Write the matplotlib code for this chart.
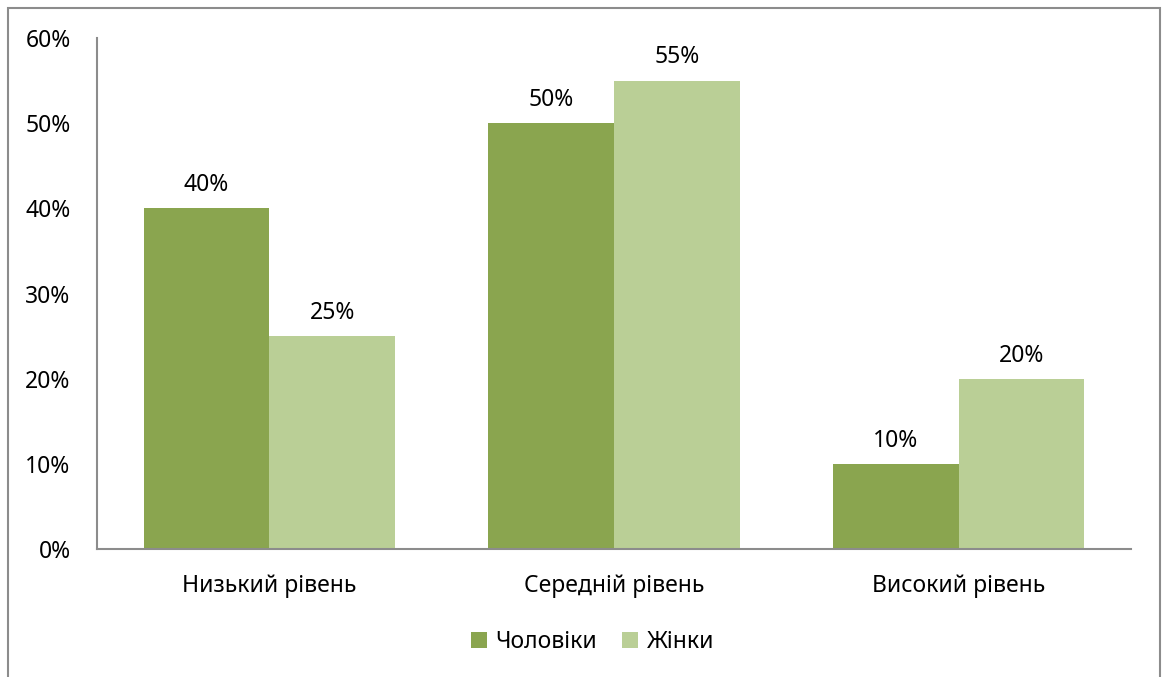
import matplotlib.pyplot as plt
import numpy as np
from matplotlib.patches import Rectangle

plt.rcParams['font.family'] = ['Noto Sans', 'DejaVu Sans']

categories = ["Низький рівень", "Середній рівень", "Високий рівень"]
men = [40, 50, 10]
women = [25, 55, 20]
series_names = ["Чоловіки", "Жінки"]
yticks = [0, 10, 20, 30, 40, 50, 60]

dark = "#8aa54f"
light = "#bacf96"
fs = 16.5

fig = plt.figure(figsize=(11.69, 6.77), dpi=100)
ax = fig.add_axes([0.083, 0.189, 0.8845, 0.7549])

x = np.arange(len(categories))
w = 0.365
b1 = ax.bar(x - w / 2, men, w, color=dark, label=series_names[0])
b2 = ax.bar(x + w / 2, women, w, color=light, label=series_names[1])

for bars, vals in ((b1, men), (b2, women)):
    for rect, v in zip(bars, vals):
        ax.annotate(f"{v}%", (rect.get_x() + rect.get_width() / 2, v),
                    xytext=(0, 8), textcoords="offset points",
                    ha="center", va="bottom", fontsize=fs)

ax.set_xlim(-0.5, len(categories) - 0.5)
ax.set_ylim(0, 60)
ax.set_yticks(yticks)
ax.set_yticklabels([f"{t}%" for t in yticks])
ax.set_xticks(x)
ax.set_xticklabels(categories)
ax.tick_params(axis="both", length=0, labelsize=fs)
ax.tick_params(axis="y", pad=19)
ax.tick_params(axis="x", pad=18)

for side in ("top", "right"):
    ax.spines[side].set_visible(False)
for side in ("left", "bottom"):
    ax.spines[side].set_color("#8c8c8c")
    ax.spines[side].set_linewidth(1.5)

ax.legend(loc="center", bbox_to_anchor=(0.507, 0.052), bbox_transform=fig.transFigure,
          ncol=2, frameon=False, fontsize=fs, handlelength=0.7, handleheight=0.7,
          handletextpad=0.35, columnspacing=1.1)

# outer chart frame, running off the bottom edge
fig.patches.append(Rectangle((8 / 1169, -0.05), 1152 / 1169, 1 - 8 / 677 + 0.05,
                             transform=fig.transFigure, fill=False,
                             edgecolor="#8c8c8c", linewidth=1.5))

fig.savefig("out.png", dpi=100)
